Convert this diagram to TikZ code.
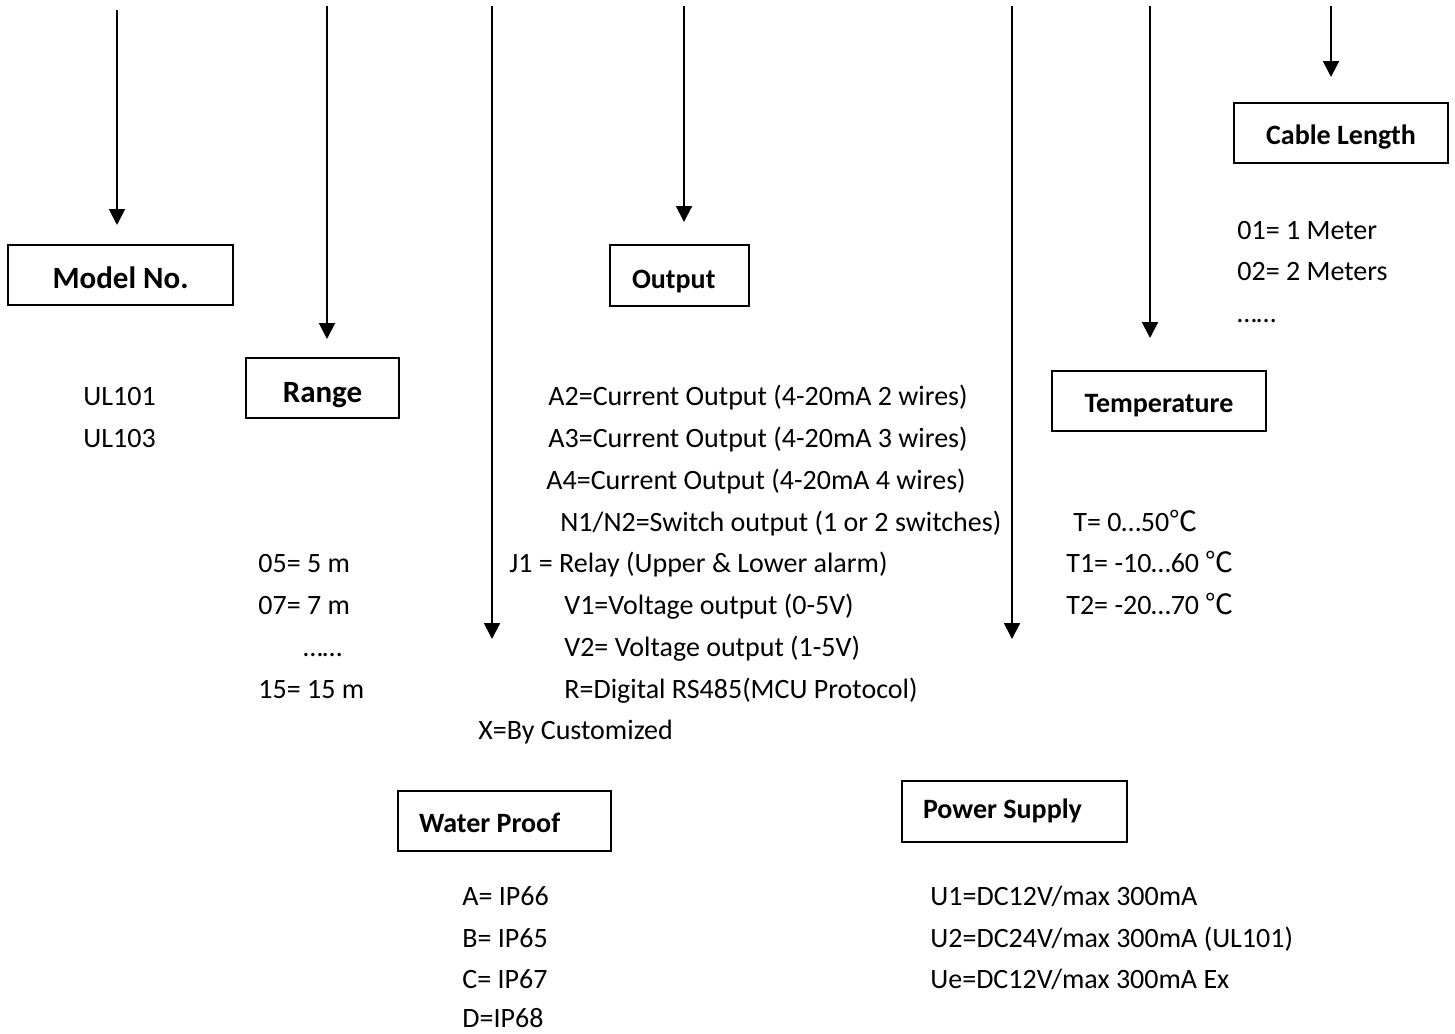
\documentclass[tikz,border=0pt]{standalone}
\usepackage{fontspec}
\setmainfont{Carlito}
\newfontfamily\cjkfont{Noto Sans CJK SC}
\usetikzlibrary{arrows.meta}

\newcommand{\degc}{{\cjkfont ℃}}

\tikzset{
    codebox/.style={draw, line width=1pt, inner ysep=0pt, text depth=0pt, font=\fontsize{14}{16.8}\selectfont\bfseries},
    bigbox/.style={codebox, font=\fontsize{15.5}{18.6}\selectfont\bfseries},
    codetext/.style={anchor=base west, inner sep=0pt, font=\fontsize{14}{16.8}\selectfont},
    codearrow/.style={line width=1pt, -{Triangle[length=8pt,width=8pt]}}
}

\begin{document}
\begin{tikzpicture}[x=0.5pt, y=-0.5pt]
    % Page frame
    \useasboundingbox (0,0) rectangle (1455,1033);
    \fill[white] (0,0) rectangle (1455,1033);

    % Arrow coordinates
    \coordinate (modeltop) at (117,10);   \coordinate (modeltip) at (117,225);
    \coordinate (rangetop) at (327,6);    \coordinate (rangetip) at (327,339);
    \coordinate (watertop) at (492,6);    \coordinate (watertip) at (492,639);
    \coordinate (outputtop) at (684,6);   \coordinate (outputtip) at (684,222);
    \coordinate (powertop) at (1012,6);   \coordinate (powertip) at (1012,639);
    \coordinate (temptop) at (1150,6);    \coordinate (temptip) at (1150,338);
    \coordinate (cabletop) at (1331,6);   \coordinate (cabletip) at (1331,77);

    % Draw arrows
    \draw[codearrow] (modeltop) -- (modeltip);
    \draw[codearrow] (rangetop) -- (rangetip);
    \draw[codearrow] (watertop) -- (watertip);
    \draw[codearrow] (outputtop) -- (outputtip);
    \draw[codearrow] (powertop) -- (powertip);
    \draw[codearrow] (temptop) -- (temptip);
    \draw[codearrow] (cabletop) -- (cabletip);

    % Field boxes
    \node[bigbox, inner xsep=0pt, minimum width=112.5pt, minimum height=30pt, text height=13pt] (model) at (120.5,275) {Model No.};
    \node[bigbox, inner xsep=0pt, minimum width=76.5pt, minimum height=30pt, text height=14pt] (range) at (322.5,388) {Range};
    \node[codebox, inner xsep=11pt, text width=47.5pt, align=flush left, minimum height=30.5pt, text height=13pt] (output) at (679.5,275.5) {Output};
    \node[codebox, inner xsep=0pt, minimum width=107pt, minimum height=30pt, text height=11pt] (cable) at (1341,133) {Cable Length};
    \node[codebox, inner xsep=0pt, minimum width=107pt, minimum height=30pt, text height=11pt] (temp) at (1159,401) {Temperature};
    \node[codebox, inner xsep=10.5pt, text width=85.5pt, align=flush left, minimum height=30pt, text height=11pt] (water) at (504.5,821) {Water Proof};
    \node[codebox, inner xsep=10.5pt, text width=91.5pt, align=flush left, minimum height=30.5pt, text height=7pt] (power) at (1014.5,811.5) {Power Supply};

    % Model values
    \node[codetext] (ul101) at (83,405) {UL101};
    \node[codetext] (ul103) at (83,447) {UL103};

    % Range values
    \node[codetext] (r05) at (258,572) {05= 5 m};
    \node[codetext] (r07) at (258,614) {07= 7 m};
    \node[codetext] (rdots) at (303,656) {……};
    \node[codetext] (r15) at (258,698) {15= 15 m};

    % Output values
    \node[codetext] (oa2) at (548,405) {A2=Current Output (4-20mA 2 wires)};
    \node[codetext] (oa3) at (548,447) {A3=Current Output (4-20mA 3 wires)};
    \node[codetext] (oa4) at (546,489) {A4=Current Output (4-20mA 4 wires)};
    \node[codetext] (on) at (560,531) {N1/N2=Switch output (1 or 2 switches)};
    \node[codetext] (oj1) at (509,572) {J1 = Relay (Upper \& Lower alarm)};
    \node[codetext] (ov1) at (564,614) {V1=Voltage output (0-5V)};
    \node[codetext] (ov2) at (564,656) {V2= Voltage output (1-5V)};
    \node[codetext] (or) at (564,698) {R=Digital RS485(MCU Protocol)};
    \node[codetext] (ox) at (478,739) {X=By Customized};

    % Temperature values
    \node[codetext] (t0) at (1073,531) {T= 0…50\degc};
    \node[codetext] (t1) at (1066,572) {T1= -10…60 \degc};
    \node[codetext] (t2) at (1066,614) {T2= -20…70 \degc};

    % Cable values
    \node[codetext] (c01) at (1237,239) {01= 1 Meter};
    \node[codetext] (c02) at (1237,280) {02= 2 Meters};
    \node[codetext] (cdots) at (1237,322) {……};

    % Water proof values
    \node[codetext] (wa) at (462,905) {A= IP66};
    \node[codetext] (wb) at (462,947) {B= IP65};
    \node[codetext] (wc) at (462,988) {C= IP67};
    \node[codetext] (wd) at (462,1027) {D=IP68};

    % Power supply values
    \node[codetext] (pu1) at (930,905) {U1=DC12V/max 300mA};
    \node[codetext] (pu2) at (930,947) {U2=DC24V/max 300mA (UL101)};
    \node[codetext] (pue) at (930,988) {Ue=DC12V/max 300mA Ex};

\end{tikzpicture}
\end{document}
